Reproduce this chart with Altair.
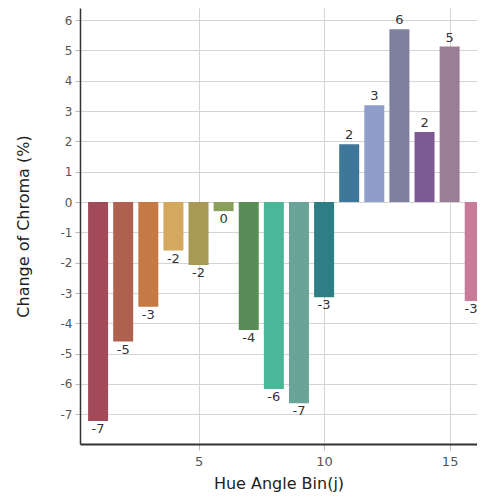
import altair as alt
import pandas as pd

bins = list(range(1, 17))
values = [-7.22, -4.6, -3.45, -1.6, -2.08, -0.3, -4.22, -6.17, -6.64, -3.14,
          1.91, 3.19, 5.70, 2.31, 5.13, -3.26]
labels = ["-7", "-5", "-3", "-2", "-2", "0", "-4", "-6", "-7", "-3",
          "2", "3", "6", "2", "5", "-3"]
colors = ["#a34a5a", "#b0604e", "#c57a45", "#d4a85e", "#a89a55", "#8aa05a",
          "#5a8c58", "#4ab898", "#6aa398", "#2e7f85", "#3f779a", "#8e9ec8",
          "#7f7f9f", "#7d5a92", "#9a7e95", "#c87a98"]

df = pd.DataFrame({"bin": bins, "value": values, "label": labels, "color": colors})
df["pos"] = df["value"] >= 0

FONT = "DejaVu Sans"
xscale = alt.Scale(domain=[0.28, 16.09], nice=False, zero=False, padding=0)
yscale = alt.Scale(domain=[-7.98, 6.4], nice=False, padding=0)
minus_expr = "datum.value < 0 ? '-' + abs(datum.value) : '' + datum.value"

xaxis = alt.Axis(values=[5, 10, 15], title="Hue Angle Bin(j)", grid=True,
                 gridColor="#d4d4d4", tickColor="#bbbbbb", tickSize=6,
                 domainColor="#333333", domainWidth=2, labelPadding=5,
                 labelColor="#555555", labelFontSize=13, labelFont=FONT,
                 labelOverlap=False,
                 titleFont=FONT, titleFontSize=16, titleFontWeight="normal",
                 titleColor="#222222", titlePadding=7)
yaxis = alt.Axis(values=list(range(-7, 7)), title="Change of Chroma (%)",
                 grid=True, gridColor="#d4d4d4", tickColor="#bbbbbb",
                 tickSize=5, domainColor="#333333", domainWidth=1.5,
                 labelColor="#555555", labelFontSize=12, labelFont=FONT,
                 labelPadding=3, labelOverlap=False, labelExpr=minus_expr,
                 titleFont=FONT, titleFontSize=16, titleFontWeight="normal",
                 titleColor="#222222", titlePadding=29)

base = alt.Chart(df).transform_calculate(tx="min(datum.bin, 15.85)")

bars = base.mark_bar(width=20, clip=True).encode(
    x=alt.X("bin:Q", scale=xscale, axis=xaxis),
    y=alt.Y("value:Q", scale=yscale, axis=yaxis),
    y2=alt.datum(0),
    color=alt.Color("color:N", scale=None),
)

text_pos = base.transform_filter("datum.pos").mark_text(
    baseline="bottom", dy=-2, font=FONT, fontSize=13, color="#333333"
).encode(x=alt.X("tx:Q", scale=xscale, axis=xaxis),
         y=alt.Y("value:Q", scale=yscale, axis=yaxis),
         text="label:N")

text_neg = base.transform_filter("!datum.pos").mark_text(
    baseline="top", dy=2, font=FONT, fontSize=13, color="#333333"
).encode(x=alt.X("tx:Q", scale=xscale, axis=xaxis),
         y=alt.Y("value:Q", scale=yscale, axis=yaxis),
         text="label:N")

chart = alt.layer(bars, text_pos, text_neg).properties(
    width=397, height=436,
    autosize=alt.AutoSizeParams(type="none"),
    padding={"left": 72, "top": 0, "right": 0, "bottom": 50},
).configure(background="white").configure_view(stroke=None)

chart.save("out.html", embed_options={"renderer": "svg", "actions": False})
